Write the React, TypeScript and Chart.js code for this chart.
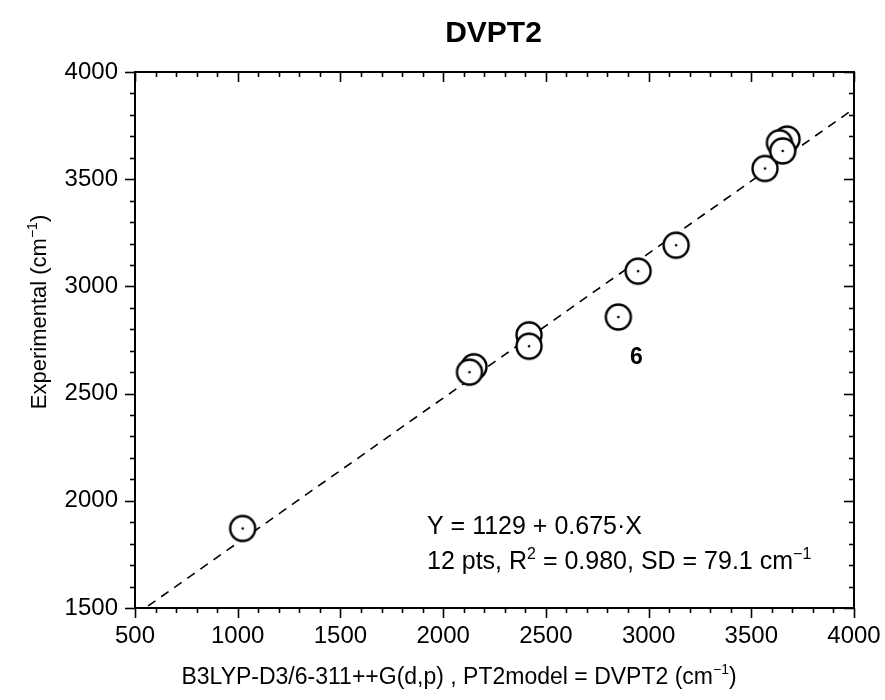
import React, { useEffect, useRef } from "react";
import { Chart, registerables } from "chart.js";

Chart.register(...registerables);

// ---- data ----
const computedX = [1024, 2150, 2128, 2418, 2418, 2853, 2949, 3134, 3567, 3674, 3637, 3653];
const experimentalY = [1871, 2625, 2600, 2774, 2721, 2857, 3071, 3192, 3550, 3687, 3670, 3632];
const xTicks = [500, 1000, 1500, 2000, 2500, 3000, 3500, 4000];
const yTicks = [1500, 2000, 2500, 3000, 3500, 4000];
const fitIntercept = 1129;
const fitSlope = 0.675;
const fitRangeX = [500, 4000];
const chartTitle = "DVPT2";
const outlierLabel = "6";
const outlierIndex = 5;

const FONT = "'Liberation Sans', Arial, sans-serif";

type Part = { t: string; sup?: boolean };

function drawRich(
  ctx: CanvasRenderingContext2D,
  parts: Part[],
  x: number,
  y: number,
  size: number,
  align: "left" | "center",
  weight = "normal"
) {
  const supSize = Math.round(size * 0.62);
  const widths = parts.map((p) => {
    ctx.font = `${weight} ${p.sup ? supSize : size}px ${FONT}`;
    return ctx.measureText(p.t).width;
  });
  const total = widths.reduce((a, b) => a + b, 0);
  let cx = align === "center" ? x - total / 2 : x;
  ctx.textAlign = "left";
  ctx.textBaseline = "alphabetic";
  parts.forEach((p, i) => {
    ctx.font = `${weight} ${p.sup ? supSize : size}px ${FONT}`;
    ctx.fillText(p.t, cx, p.sup ? y - size * 0.42 : y);
    cx += widths[i];
  });
}

const decorPlugin = {
  id: "decor",
  afterDatasetsDraw(chart: any) {
    const { ctx, chartArea, scales } = chart;
    const { left, right, top, bottom } = chartArea;
    const xs = scales.x;
    const ys = scales.y;
    ctx.save();
    ctx.strokeStyle = "#000";
    ctx.fillStyle = "#000";
    // frame
    ctx.lineWidth = 2;
    ctx.strokeRect(left, top, right - left, bottom - top);
    // ticks
    ctx.lineWidth = 1.6;
    const seg = (x1: number, y1: number, x2: number, y2: number) => {
      ctx.beginPath();
      ctx.moveTo(x1, y1);
      ctx.lineTo(x2, y2);
      ctx.stroke();
    };
    const xMin = xTicks[0];
    const xMax = xTicks[xTicks.length - 1];
    for (let v = xMin; v <= xMax; v += 100) {
      const px = Math.round(xs.getPixelForValue(v)) + 0.5;
      const len = v % 500 === 0 ? 10 : 5;
      seg(px, bottom, px, bottom + len);
      seg(px, top, px, top + len);
    }
    const yMin = yTicks[0];
    const yMax = yTicks[yTicks.length - 1];
    for (let v = yMin; v <= yMax; v += 100) {
      const py = Math.round(ys.getPixelForValue(v)) + 0.5;
      const len = v % 500 === 0 ? 10 : 5;
      seg(left, py, left - len, py);
      seg(right, py, right - len, py);
    }
    // outlier label
    ctx.font = `bold 23px ${FONT}`;
    ctx.textAlign = "center";
    ctx.textBaseline = "middle";
    const ox = xs.getPixelForValue(computedX[outlierIndex]);
    const oy = ys.getPixelForValue(experimentalY[outlierIndex]);
    ctx.fillText(outlierLabel, ox + 18, oy + 41);
    // fit annotation
    drawRich(ctx, [{ t: "Y = 1129 + 0.675\u00B7X" }], 427, 534, 25, "left");
    drawRich(
      ctx,
      [
        { t: "12 pts, R" },
        { t: "2", sup: true },
        { t: " = 0.980, SD = 79.1 cm" },
        { t: "\u22121", sup: true },
      ],
      427,
      569,
      25,
      "left"
    );
    // title
    ctx.font = `bold 30px ${FONT}`;
    ctx.textAlign = "center";
    ctx.textBaseline = "alphabetic";
    ctx.fillText(chartTitle, (left + right) / 2 - 1, 42);
    // x axis title
    drawRich(
      ctx,
      [
        { t: "B3LYP-D3/6-311++G(d,p) , PT2model = DVPT2 (cm" },
        { t: "\u22121", sup: true },
        { t: ")" },
      ],
      459,
      684,
      23,
      "center"
    );
    // y axis title
    ctx.save();
    ctx.translate(46, 312);
    ctx.rotate(-Math.PI / 2);
    drawRich(
      ctx,
      [{ t: "Experimental (cm" }, { t: "\u22121", sup: true }, { t: ")" }],
      0,
      0,
      22,
      "center"
    );
    ctx.restore();
    ctx.restore();
  },
};

function makeMarker(): HTMLCanvasElement {
  const c = document.createElement("canvas");
  c.width = 32;
  c.height = 32;
  const g = c.getContext("2d")!;
  g.beginPath();
  g.arc(16, 16, 12.5, 0, Math.PI * 2);
  g.fillStyle = "#fff";
  g.fill();
  g.lineWidth = 2.4;
  g.strokeStyle = "#000";
  g.stroke();
  g.beginPath();
  g.arc(16, 16, 1.3, 0, Math.PI * 2);
  g.fillStyle = "#000";
  g.fill();
  return c;
}

export default function App() {
  const ref = useRef<HTMLCanvasElement>(null);
  useEffect(() => {
    if (!ref.current) return;
    const marker = makeMarker();
    const points = computedX.map((x, i) => ({ x, y: experimentalY[i] }));
    const fit = fitRangeX.map((x) => ({ x, y: fitIntercept + fitSlope * x }));
    const chart = new Chart(ref.current, {
      type: "scatter",
      data: {
        datasets: [
          {
            type: "line",
            data: fit,
            borderColor: "#000",
            borderWidth: 1.6,
            borderDash: [9, 7],
            pointRadius: 0,
            fill: false,
            order: 2,
          } as any,
          {
            data: points,
            pointStyle: marker,
            pointRadius: 13,
            order: 1,
          } as any,
        ],
      },
      options: {
        responsive: false,
        animation: false,
        events: [],
        layout: { padding: { left: 0, top: 72, right: 31, bottom: 0 } },
        plugins: { legend: { display: false }, tooltip: { enabled: false }, title: { display: false } },
        scales: {
          x: {
            type: "linear",
            min: xTicks[0],
            max: xTicks[xTicks.length - 1],
            grid: { display: false, drawTicks: false },
            border: { display: false },
            afterBuildTicks: (s: any) => {
              s.ticks = xTicks.map((v) => ({ value: v }));
            },
            afterFit: (s: any) => {
              s.height = 700 - 608;
              s.paddingLeft = 0;
              s.paddingRight = 0;
            },
            ticks: {
              color: "#000",
              padding: 14,
              maxRotation: 0,
              autoSkip: false,
              font: { family: FONT, size: 24 },
              callback: (v: any) => String(v),
            },
          },
          y: {
            type: "linear",
            min: yTicks[0],
            max: yTicks[yTicks.length - 1],
            grid: { display: false, drawTicks: false },
            border: { display: false },
            afterBuildTicks: (s: any) => {
              s.ticks = yTicks.map((v) => ({ value: v }));
            },
            afterFit: (s: any) => {
              s.width = 135;
              s.paddingTop = 0;
              s.paddingBottom = 0;
            },
            ticks: {
              color: "#000",
              padding: 17,
              autoSkip: false,
              font: { family: FONT, size: 24 },
              callback: (v: any) => String(v),
            },
          },
        },
      },
      plugins: [decorPlugin],
    });
    return () => chart.destroy();
  }, []);
  return (
    <div style={{ position: "absolute", left: 0, top: 0, width: 885, height: 700, background: "#fff" }}>
      <canvas ref={ref} width={885} height={700} />
    </div>
  );
}
